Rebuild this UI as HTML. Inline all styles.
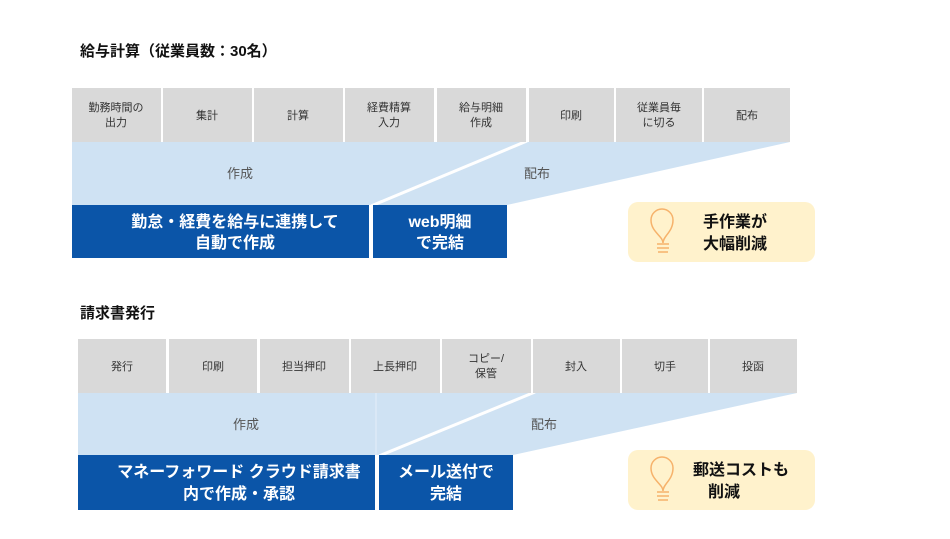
<!DOCTYPE html>
<html><head><meta charset="utf-8"><style>
body{margin:0;background:#fff;width:950px;height:534px;overflow:hidden}
svg text{font-family:"Liberation Sans","Noto Sans CJK JP",sans-serif}
</style></head><body>
<svg width="950" height="534" viewBox="0 0 950 534" xmlns="http://www.w3.org/2000/svg">
<g font-size="15" font-weight="bold" fill="#111">
<text x="80" y="56">給与計算（従業員数：30名）</text>
<text x="80" y="318">請求書発行</text>
</g>
<!-- top section -->
<polygon points="72,142 790,142 507,205 72,205" fill="#cfe2f3"/>
<line x1="527" y1="141" x2="371" y2="206" stroke="#fff" stroke-width="3"/>
<g fill="#d9d9d9">
<rect x="72" y="88" width="89" height="54"/><rect x="163" y="88" width="89" height="54"/>
<rect x="254" y="88" width="89" height="54"/><rect x="345" y="88" width="89" height="54"/>
<rect x="437" y="88" width="89" height="54"/><rect x="529" y="88" width="85" height="54"/>
<rect x="616" y="88" width="86" height="54"/><rect x="704" y="88" width="86" height="54"/>
</g>
<g font-size="11" fill="#333" text-anchor="middle">
<text x="116" y="111">勤務時間の</text><text x="116" y="126">出力</text>
<text x="207" y="119">集計</text><text x="298" y="119">計算</text>
<text x="389" y="111">経費精算</text><text x="389" y="126">入力</text>
<text x="481" y="111">給与明細</text><text x="481" y="126">作成</text>
<text x="571" y="119">印刷</text>
<text x="659" y="111">従業員毎</text><text x="659" y="126">に切る</text>
<text x="747" y="119">配布</text>
</g>
<g font-size="13" fill="#555" text-anchor="middle">
<text x="240" y="178">作成</text><text x="537" y="178">配布</text>
</g>
<rect x="72" y="205" width="297" height="53" fill="#0b55a8"/>
<rect x="373" y="205" width="134" height="53" fill="#0b55a8"/>
<g font-size="16" font-weight="bold" fill="#fff" text-anchor="middle">
<text x="235" y="227">勤怠・経費を給与に連携して</text><text x="235" y="248">自動で作成</text>
<text x="440" y="227">web明細</text><text x="440" y="248">で完結</text>
</g>
<rect x="628" y="202" width="187" height="60" rx="10" fill="#fff2cc"/>
<g font-size="16" font-weight="bold" fill="#111">
<text x="703" y="227">手作業が</text><text x="703" y="249">大幅削減</text>
</g>
<!-- bulb -->
<g fill="none" stroke="#f6b26b" stroke-width="1.5">
<path d="M664,243 C664,236 652,232 652,220 A11,11 0 0 1 674,220 C674,232 664,236 664,243 Z" transform="translate(-1,0)"/>
<path d="M657,244 h12 M657,248 h12 M658,252 h10"/>
</g>
<!-- bottom section -->
<polygon points="78,393 797,393 513,455 78,455" fill="#cfe2f3"/>
<line x1="376" y1="393" x2="376" y2="455" stroke="#e4eef8" stroke-width="1"/>
<line x1="535" y1="392" x2="379" y2="456" stroke="#fff" stroke-width="3"/>
<g fill="#d9d9d9">
<rect x="78" y="339" width="88" height="54"/><rect x="169" y="339" width="88" height="54"/>
<rect x="260" y="339" width="89" height="54"/><rect x="351" y="339" width="89" height="54"/>
<rect x="442" y="339" width="89" height="54"/><rect x="533" y="339" width="87" height="54"/>
<rect x="622" y="339" width="86" height="54"/><rect x="710" y="339" width="87" height="54"/>
</g>
<g font-size="11" fill="#333" text-anchor="middle">
<text x="122" y="370">発行</text><text x="213" y="370">印刷</text>
<text x="304" y="370">担当押印</text><text x="395" y="370">上長押印</text>
<text x="486" y="362">コピー/</text><text x="486" y="377">保管</text>
<text x="576" y="370">封入</text><text x="665" y="370">切手</text><text x="753" y="370">投函</text>
</g>
<g font-size="13" fill="#555" text-anchor="middle">
<text x="246" y="429">作成</text><text x="544" y="429">配布</text>
</g>
<rect x="78" y="455" width="297" height="55" fill="#0b55a8"/>
<rect x="379" y="455" width="134" height="55" fill="#0b55a8"/>
<g font-size="16" font-weight="bold" fill="#fff" text-anchor="middle">
<text x="239" y="477">マネーフォワード クラウド請求書</text><text x="239" y="499">内で作成・承認</text>
<text x="446" y="477">メール送付で</text><text x="446" y="499">完結</text>
</g>
<rect x="628" y="450" width="187" height="60" rx="10" fill="#fff2cc"/>
<g font-size="16" font-weight="bold" fill="#111">
<text x="693" y="475">郵送コストも</text><text x="708" y="497">削減</text>
</g>
<g fill="none" stroke="#f6b26b" stroke-width="1.5">
<path d="M664,491 C664,484 652,480 652,468 A11,11 0 0 1 674,468 C674,480 664,484 664,491 Z" transform="translate(-1,0)"/>
<path d="M657,492 h12 M657,496 h12 M658,500 h10"/>
</g>
</svg>
</body></html>
